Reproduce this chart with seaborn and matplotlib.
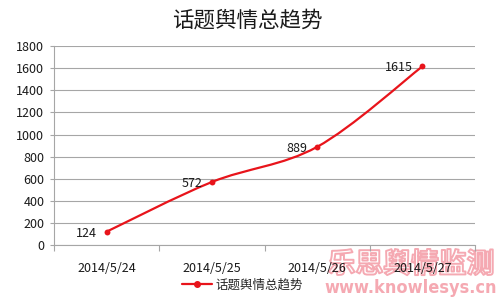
import matplotlib
matplotlib.use("Agg")
import matplotlib.pyplot as plt
import matplotlib.patheffects as pe
from matplotlib.path import Path
from matplotlib.patches import PathPatch
from matplotlib.lines import Line2D
import seaborn as sns
import pandas as pd
import numpy as np

dates = ["2014/5/24", "2014/5/25", "2014/5/26", "2014/5/27"]
values = [124, 572, 889, 1615]
series_name = "话题舆情总趋势"
title = "话题舆情总趋势"
yticks = [0, 200, 400, 600, 800, 1000, 1200, 1400, 1600, 1800]

sns.set_theme(style="white")
plt.rcParams['font.family'] = ['Noto Sans CJK SC', 'DejaVu Sans']

df = pd.DataFrame({"date": dates, "value": values})

fig = plt.figure(figsize=(5, 3), dpi=100)
ax = fig.add_axes([0.108, 0.182, 0.842, 0.665])
ax.set_zorder(1)

red = "#e8141b"
grid_c = "#a6a6a6"
wm_c = "#f5a9b2"

# markers via seaborn
sns.scatterplot(data=df, x="date", y="value", ax=ax, color=red, s=18,
                edgecolor=red, linewidth=0, zorder=4)

# smooth line (Excel-style smoothed curve) built from data as Bezier path
xs = np.arange(len(values), dtype=float)
ys = np.array(values, dtype=float)
P = np.column_stack([xs, ys])
verts = [tuple(P[0])]
codes = [Path.MOVETO]
n = len(P)
for i in range(n - 1):
    p_prev = P[i - 1] if i > 0 else P[i]
    p_next2 = P[i + 2] if i + 2 < n else P[i + 1]
    c1 = P[i] + (P[i + 1] - p_prev) / 6.0
    c2 = P[i + 1] - (p_next2 - P[i]) / 6.0
    verts += [tuple(c1), tuple(c2), tuple(P[i + 1])]
    codes += [Path.CURVE4, Path.CURVE4, Path.CURVE4]
ax.add_patch(PathPatch(Path(verts, codes), facecolor="none", edgecolor=red,
                       lw=1.6, zorder=3))

# data labels left of points
for i, v in enumerate(values):
    ax.annotate(str(v), (i, v), xytext=(-7, -1), textcoords="offset points",
                ha="right", va="center", fontsize=9, color="#1a1a1a")

ax.set_xlim(-0.5, len(dates) - 0.5)
ax.set_ylim(0, 1800)
ax.set_yticks(yticks)
ax.set_yticklabels([str(t) for t in yticks], fontsize=9, color="#1a1a1a")
ax.set_xticks(range(len(dates)))
ax.set_xticklabels(dates, fontsize=9, color="#1a1a1a")
ax.tick_params(axis="x", length=0, pad=12)
ax.tick_params(axis="y", length=3, width=0.8, color=grid_c, pad=4, left=True)
ax.set_xticks(np.arange(-0.5, len(dates), 1.0), minor=True)
ax.tick_params(axis="x", which="minor", length=4, width=0.8, color=grid_c,
               bottom=True)
ax.set_xlabel("")
ax.set_ylabel("")
ax.yaxis.grid(True, color=grid_c, lw=0.8)
ax.set_axisbelow(True)
for s in ["top", "right"]:
    ax.spines[s].set_visible(False)
for s in ["left", "bottom"]:
    ax.spines[s].set_color(grid_c)
    ax.spines[s].set_linewidth(0.8)

fig.text(0.494, 0.933, title, ha="center", va="center", fontsize=15.5,
         color="#1a1a1a")

handle = Line2D([], [], color=red, lw=1.6, marker="o", markersize=4)
fig.legend([handle], [series_name], loc="center", bbox_to_anchor=(0.485, 0.05),
           frameon=False, fontsize=9, handlelength=2.4, handletextpad=0.3)

# watermark (hollow outlined characters + bold url), behind the axes text
fig.text(0.822, 0.118, "乐思舆情监测", ha="center", va="center", fontsize=20,
         color="none", fontweight="bold",
         path_effects=[pe.withStroke(linewidth=1.4, foreground=wm_c)],
         zorder=0.5)
fig.text(0.822, 0.040, "www.knowlesys.cn", ha="center", va="center",
         fontsize=13, color=wm_c, fontweight="bold", fontstretch="condensed",
         family=["Liberation Sans Narrow", "DejaVu Sans Condensed",
                 "DejaVu Sans"], zorder=0.5)

fig.savefig("out.png", dpi=100)
